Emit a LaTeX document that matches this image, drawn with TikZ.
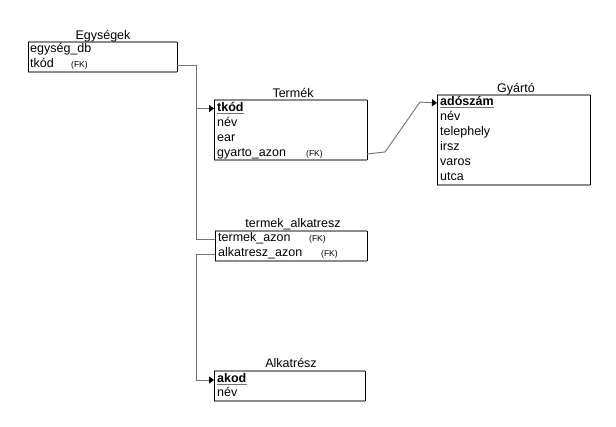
\documentclass[tikz,border=0pt]{standalone}
\usepackage{fontspec}
\setmainfont{Liberation Sans}
\usetikzlibrary{arrows.meta}
\begin{document}
\begin{tikzpicture}[x=1pt,y=-1pt,
  tbl/.style={draw=none,inner sep=0pt,outer sep=0pt,anchor=north west},
  hline/.style={draw=black!45,line width=1.6pt},
  vline/.style={draw=black,line width=0.9pt},
  tabletitle/.style={font=\fontsize{12.5}{13}\selectfont,inner sep=0pt,anchor=base},
  field/.style={font=\fontsize{12.5}{13}\selectfont,inner sep=0pt,anchor=west,
    text height=8pt,text depth=2.5pt},
  keyfield/.style={field,font=\fontsize{12.5}{13}\selectfont\bfseries},
  fk/.style={font=\fontsize{8.5}{9}\selectfont,inner sep=0pt,anchor=west,
    text height=6pt,text depth=2pt},
  keyline/.style={draw=black!55,line width=1.2pt},
  conn/.style={draw=black!55,line width=0.9pt},
  arr/.style={conn,-{Triangle[length=5pt,width=7pt,fill=black,color=black]}}]
\useasboundingbox (0,0) rectangle (616,426);

% tables
\node[tbl,minimum width=149pt,minimum height=30pt] (egy) at (28,42) {};
\node[tbl,minimum width=153pt,minimum height=60pt] (ter) at (214,100) {};
\node[tbl,minimum width=153pt,minimum height=90pt] (gyar) at (437,95) {};
\node[tbl,minimum width=152pt,minimum height=30pt] (tka) at (215,231) {};
\node[tbl,minimum width=151pt,minimum height=30pt] (alk) at (214,371) {};

\foreach \b in {egy,ter,gyar,tka,alk}{
  \draw[hline] (\b.north west) -- (\b.north east);
  \draw[hline] (\b.south west) -- (\b.south east);
  \draw[vline] (\b.north west) -- (\b.south west);
  \draw[vline] (\b.north east) -- (\b.south east);
}

% titles
\node[tabletitle] (egyT) at (103,39) {Egységek};
\node[tabletitle] (terT) at (293,97) {Termék};
\node[tabletitle] (gyarT) at (516,92) {Gyártó};
\node[tabletitle] (tkaT) at (293,227) {termek\_alkatresz};
\node[tabletitle] (alkT) at (291,367) {Alkatrész};

% Egységek
\node[field] (egy1) at (30,50) {egység\_db};
\node[field] (egy2) at (30,65) {tkód};
\node[fk] (egy2fk) at (71,65) {(FK)};

% Termék
\node[keyfield] (ter1) at (217,108.5) {tkód};
\node[field] (ter2) at (217,124) {név};
\node[field] (ter3) at (217,139) {ear};
\node[field] (ter4) at (217,154) {gyarto\_azon};
\node[fk] (ter4fk) at (306,154) {(FK)};

% Gyártó
\node[keyfield] (gyar1) at (440,103) {adószám};
\node[field] (gyar2) at (440,118) {név};
\node[field] (gyar3) at (440,133) {telephely};
\node[field] (gyar4) at (440,148) {irsz};
\node[field] (gyar5) at (440,163) {varos};
\node[field] (gyar6) at (440,178) {utca};

% termek_alkatresz
\node[field] (tka1) at (218,239) {termek\_azon};
\node[fk] (tka1fk) at (309,239) {(FK)};
\node[field] (tka2) at (218,254) {alkatresz\_azon};
\node[fk] (tka2fk) at (321,254) {(FK)};

% Alkatrész
\node[keyfield] (alk1) at (217,380) {akod};
\node[field] (alk2) at (217,394) {név};

% key underlines
\foreach \k in {ter1,gyar1,alk1}{
  \draw[keyline] ([yshift=-2pt]\k.base west) -- ([yshift=-2pt]\k.base east);
}

% connectors
\coordinate (bus) at (196,0);
\coordinate (bendA) at (385,152);
\coordinate (bendB) at (420,102);

\draw[arr] (egy.east |- egy2) -| (bus |- ter1) -- (ter.west |- ter1);
\draw[conn] (tka.west |- tka1) -| (bus |- ter1);
\draw[arr] (tka.west |- tka2) -| (bus |- alk1) -- (alk.west |- alk1);
\draw[arr] (ter.east |- ter4) -- (bendA) -- (bendB) -- (gyar.west |- gyar1);
\end{tikzpicture}
\end{document}
